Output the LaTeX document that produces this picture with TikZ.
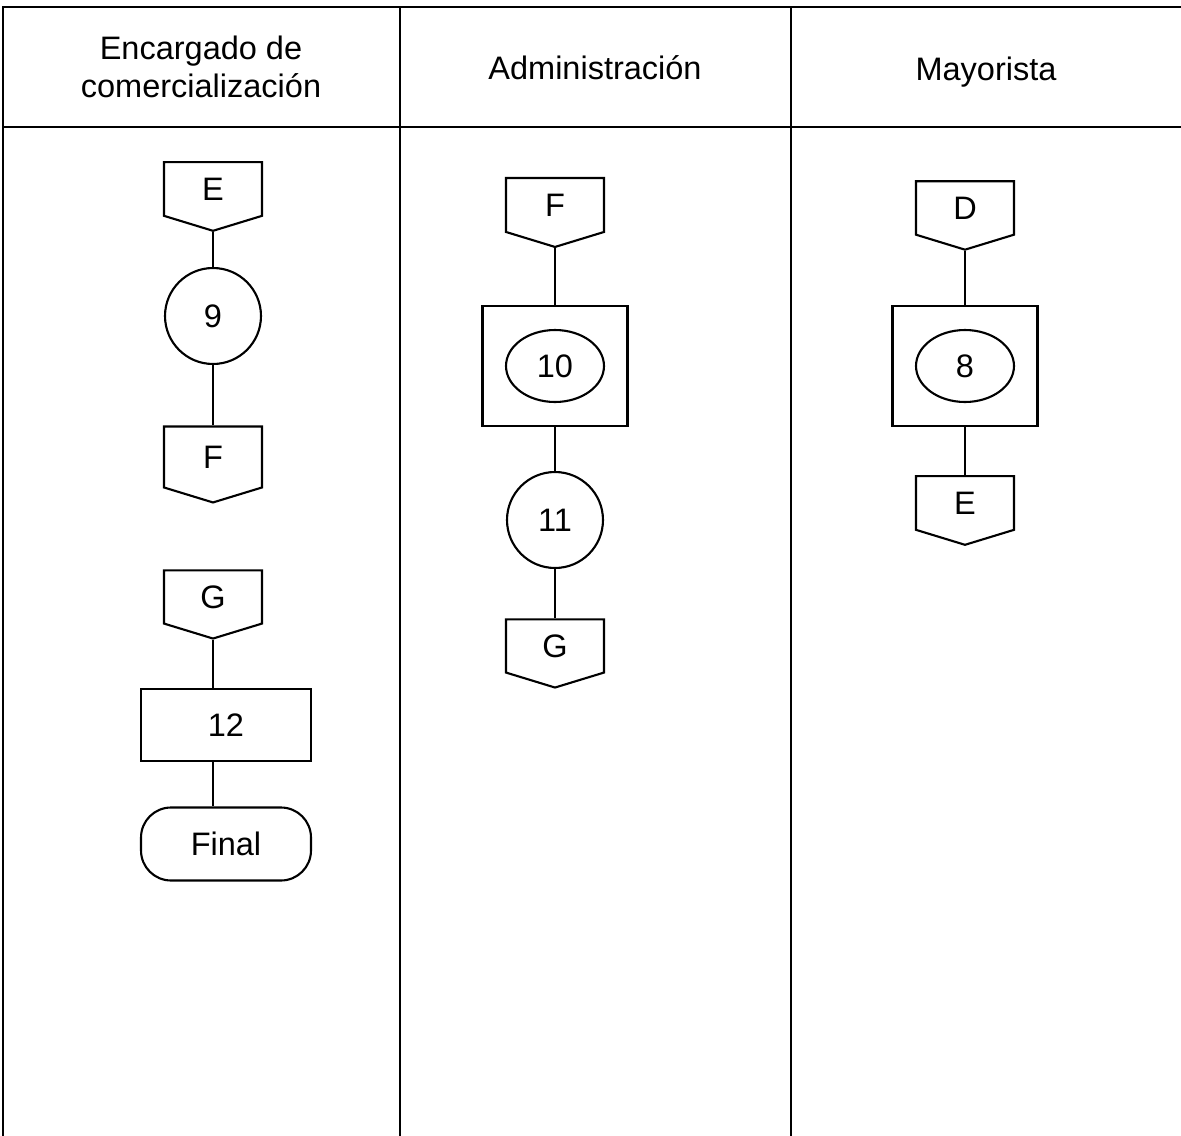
\documentclass[tikz,border=0pt]{standalone}
\usepackage{fontspec}
\setmainfont{Liberation Sans}
\usetikzlibrary{shapes.symbols,shapes.geometric}
\begin{document}
\begin{tikzpicture}[
    x=0.02cm, y=-0.02cm,
    every node/.style={font=\fontsize{18.5}{22}\selectfont},
    framestyle/.style={line width=1pt},
    headstyle/.style={align=center},
    connstyle/.style={shape=signal, signal to=south, signal from=nowhere, signal pointer angle=146, draw, line width=1.2pt, minimum width=1.96cm, minimum height=1.14cm, inner sep=0pt},
    opstyle/.style={circle, draw, line width=1.2pt, minimum size=1.92cm, inner sep=0pt},
    boxstyle/.style={rectangle, draw, line width=1.2pt, minimum width=2.9cm, minimum height=2.4cm},
    ovalstyle/.style={ellipse, draw, line width=1.2pt, minimum width=1.96cm, minimum height=1.44cm, inner sep=0pt},
    taskstyle/.style={rectangle, draw, line width=1.2pt, minimum width=3.4cm, minimum height=1.44cm},
    endstyle/.style={rectangle, rounded corners=0.6cm, draw, line width=1.2pt, minimum width=3.4cm, minimum height=1.46cm},
    linkstyle/.style={line width=1.2pt}
]
    \useasboundingbox (0,0) rectangle (1181,1136);

    % marco de la tabla
    \draw[framestyle] (1181,7) -- (3,7) -- (3,1136);
    \draw[framestyle] (3,127) -- (1181,127);
    \draw[framestyle] (400,7) -- (400,1136);
    \draw[framestyle] (791,7) -- (791,1136);

    \node[headstyle] (h1) at (201,67) {Encargado de\\comercialización};
    \node[headstyle] (h2) at (595,68) {Administración};
    \node[headstyle] (h3) at (986,72) {Mayorista};

    % Encargado de comercializacion
    \node[connstyle] (cE1) at (213,189) {E};
    \node[opstyle] (p9) at (213,316) {9};
    \node[connstyle, minimum height=1.28cm] (cF1) at (213,457) {F};
    \node[connstyle] (cG1) at (213,597) {G};
    \node[taskstyle] (t12) at (226,725) {12};
    \node[endstyle] (fin) at (226,844) {Final};

    \draw[linkstyle] (cE1.south) -- (p9.north);
    \draw[linkstyle] (p9.south) -- (cF1.north);
    \draw[linkstyle] (cG1.south) -- (cG1.south |- t12.north);
    \draw[linkstyle] (cG1.south |- t12.south) -- (cG1.south |- fin.north);

    % Administracion
    \node[connstyle] (cF2) at (555,205) {F};
    \node[boxstyle] (b10) at (555,366) {};
    \node[ovalstyle] (o10) at (555,366) {10};
    \node[opstyle] (p11) at (555,520) {11};
    \node[connstyle] (cG2) at (555,646) {G};

    \draw[linkstyle] (cF2.south) -- (b10.north);
    \draw[linkstyle] (b10.south) -- (p11.north);
    \draw[linkstyle] (p11.south) -- (cG2.north);

    % Mayorista
    \node[connstyle] (cD3) at (965,208) {D};
    \node[boxstyle] (b8) at (965,366) {};
    \node[ovalstyle] (o8) at (965,366) {8};
    \node[connstyle] (cE3) at (965,503) {E};

    \draw[linkstyle] (cD3.south) -- (b8.north);
    \draw[linkstyle] (b8.south) -- (cE3.north);
\end{tikzpicture}
\end{document}
